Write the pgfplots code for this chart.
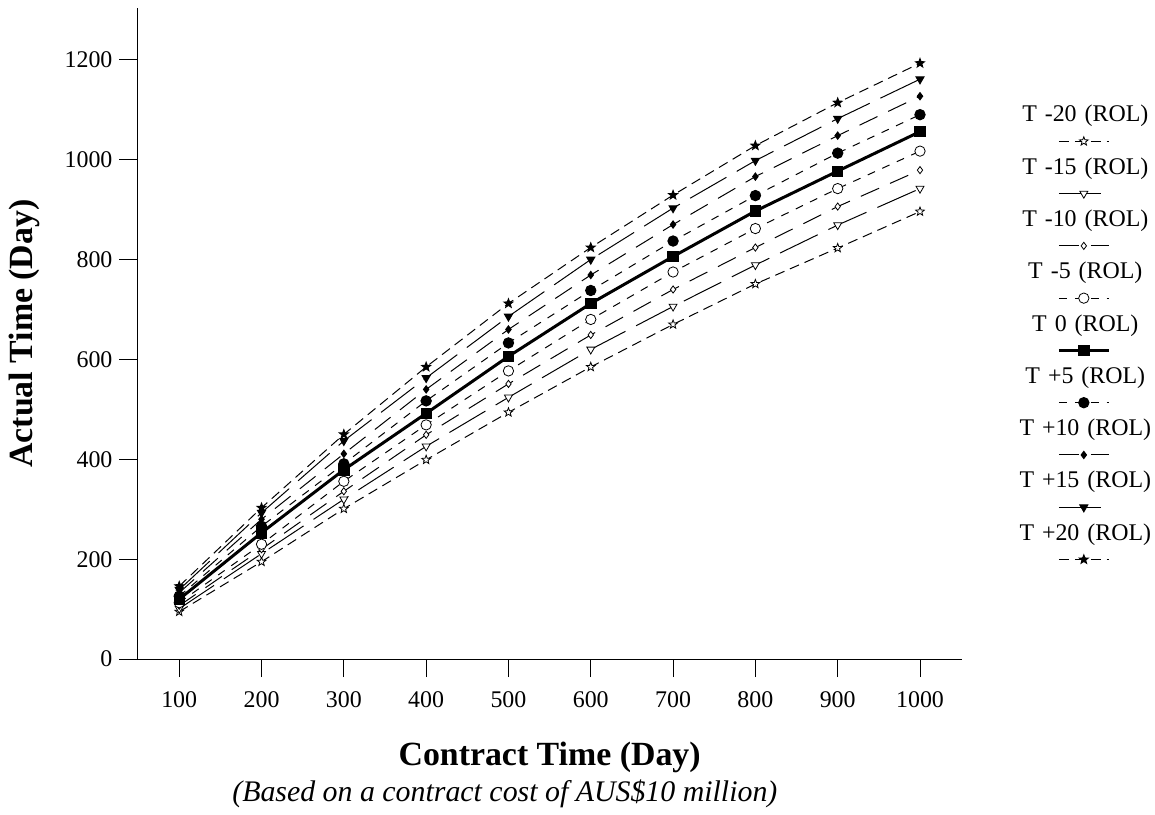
\documentclass[border=0pt]{standalone}
\usepackage{pgfplots}
\pgfplotsset{compat=1.18}
\usepackage{pgfplotstable}
\usepackage{fontspec}
\setmainfont{Liberation Serif}
\usetikzlibrary{plotmarks}

\makeatletter
\pgfdeclareplotmark{fivestar}{%
  \pgfpathmoveto{\pgfpointpolar{90}{\pgfplotmarksize}}%
  \pgfpathlineto{\pgfpointpolar{126}{0.42\pgfplotmarksize}}%
  \pgfpathlineto{\pgfpointpolar{162}{\pgfplotmarksize}}%
  \pgfpathlineto{\pgfpointpolar{198}{0.42\pgfplotmarksize}}%
  \pgfpathlineto{\pgfpointpolar{234}{\pgfplotmarksize}}%
  \pgfpathlineto{\pgfpointpolar{270}{0.42\pgfplotmarksize}}%
  \pgfpathlineto{\pgfpointpolar{306}{\pgfplotmarksize}}%
  \pgfpathlineto{\pgfpointpolar{342}{0.42\pgfplotmarksize}}%
  \pgfpathlineto{\pgfpointpolar{18}{\pgfplotmarksize}}%
  \pgfpathlineto{\pgfpointpolar{54}{0.42\pgfplotmarksize}}%
  \pgfpathclose
  \pgfusepathqfillstroke
}
\makeatother

\pgfplotstableread{
x    m20  m15  m10  m5   z    p5   p10  p15  p20
100  95   101  107  113  120  126  133  139  146
200  195  211  220  230  253  266  280  293  303
300  301  320  336  356  379  391  411  437  450
400  399  426  449  469  492  517  540  563  585
500  494  524  551  577  606  633  660  686  712
600  585  620  649  680  712  738  769  800  824
700  670  706  740  775  806  837  870  903  929
800  751  789  824  862  897  928  966  998  1028
900  823  869  906  942  977  1013 1048 1082 1114
1000 896  942  979  1017 1056 1090 1127 1161 1193
}\datatable

\begin{document}
\begin{tikzpicture}
\begin{axis}[
  width=414pt, height=327pt, scale only axis,
  xmin=49.2, xmax=1050.8, ymin=0, ymax=1303.6,
  axis x line=bottom, axis y line=left,
  axis line style={-, line width=0.5pt, black},
  x axis line style={shorten <=-9pt},
  xtick={100,200,...,1000}, ytick={0,200,...,1200},
  tick align=outside, major tick length=9pt,
  tick style={line width=0.5pt, black},
  /pgf/number format/assume math mode=true,
  /pgf/number format/1000 sep={},
  tick label style={font=\fontsize{12}{14}\selectfont},
  xticklabel style={yshift=-4pt},
  clip=false,
  xlabel={Contract Time (Day)},
  ylabel={Actual Time (Day)},
  every axis x label/.style={at={(axis description cs:0.5,-0.151)}, anchor=center, font=\fontsize{17}{20}\selectfont\bfseries},
  every axis y label/.style={at={(axis description cs:-0.137,0.5)}, anchor=center, rotate=90, font=\fontsize{17}{20}\selectfont\bfseries},
  legend cell align=center,
  legend style={draw=none, fill=none, inner sep=0pt, outer sep=0pt,
    at={(rel axis cs:1.148,0.851)}, anchor=north,
    row sep=14.75pt, column sep=0pt,
    nodes={inner sep=0pt, text width=70pt, align=center, text height=8.5pt, text depth=3pt, font=\fontsize{12}{14}\selectfont}},
  legend image code/.code={%
    \draw[overlay, mark repeat=2, mark phase=2, #1] plot coordinates {(22.5pt,-12.5pt) (35pt,-12.5pt) (47.5pt,-12.5pt)};
    \path (0pt,0pt);
  },
  every axis plot/.append style={black, line width=0.5pt},
]
\addplot[dash pattern=on 5pt off 3pt, mark=fivestar, mark size=2.3pt, mark options={solid, fill=white, line width=0.4pt}] table[x=x,y=m20] {\datatable};
\addlegendentry{T -20 (ROL)}
\addplot[dash pattern=on 21pt off 6pt, mark=triangle*, mark size=2.3pt, mark options={solid, fill=white, rotate=180, line width=0.4pt}] table[x=x,y=m15] {\datatable};
\addlegendentry{T -15 (ROL)}
\addplot[dash pattern=on 10pt off 6pt, mark=diamond*, mark size=1.8pt, mark options={solid, fill=white, line width=0.4pt}] table[x=x,y=m10] {\datatable};
\addlegendentry{T -10 (ROL)}
\addplot[dash pattern=on 4pt off 4pt, mark=*, mark size=2.6pt, mark options={solid, fill=white, line width=0.4pt}] table[x=x,y=m5] {\datatable};
\addlegendentry{T -5 (ROL)}
\addplot[solid, line width=1.5pt, mark=square*, mark size=2.6pt, mark options={solid, fill=black, line width=0.4pt}] table[x=x,y=z] {\datatable};
\addlegendentry{T 0 (ROL)}
\addplot[dash pattern=on 4pt off 4pt, mark=*, mark size=2.6pt, mark options={solid, fill=black}] table[x=x,y=p5] {\datatable};
\addlegendentry{T +5 (ROL)}
\addplot[dash pattern=on 10pt off 6pt, mark=diamond*, mark size=1.8pt, mark options={solid, fill=black}] table[x=x,y=p10] {\datatable};
\addlegendentry{T +10 (ROL)}
\addplot[dash pattern=on 21pt off 6pt, mark=triangle*, mark size=2.3pt, mark options={solid, fill=black, rotate=180}] table[x=x,y=p15] {\datatable};
\addlegendentry{T +15 (ROL)}
\addplot[dash pattern=on 5pt off 3pt, mark=fivestar, mark size=2.3pt, mark options={solid, fill=black}] table[x=x,y=p20] {\datatable};
\addlegendentry{T +20 (ROL)}
\node[font=\fontsize{15}{18}\selectfont\itshape, anchor=center] at (rel axis cs:0.4457,-0.2064) {(Based on a contract cost of AUS\$10 million)};
\path (rel axis cs:-0.16667,-0.23547) rectangle (rel axis cs:1.22826,1.01223);
\end{axis}
\end{tikzpicture}
\end{document}
